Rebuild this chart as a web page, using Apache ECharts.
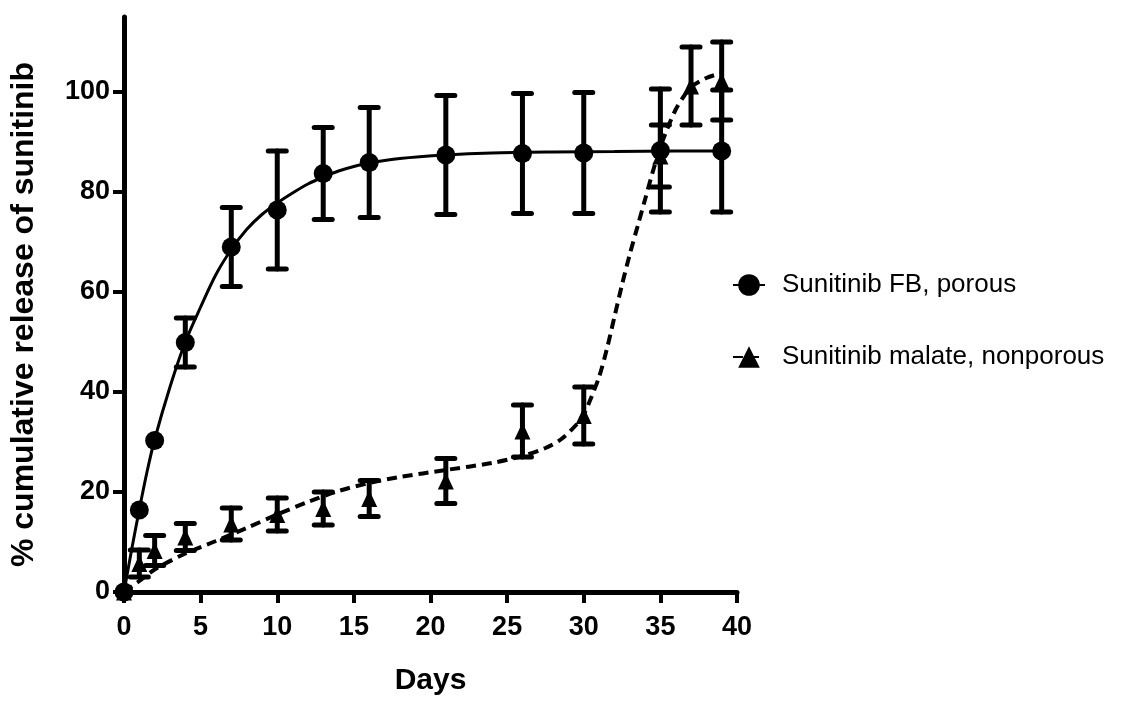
<!DOCTYPE html>
<html>
<head>
<meta charset="utf-8">
<script src="https://cdn.jsdelivr.net/npm/echarts@6/dist/echarts.min.js"></script>
<style>
html,body{margin:0;padding:0;background:#fff;}
#chart{width:1124px;height:702px;}
</style>
</head>
<body>
<div id="chart"></div>
<script>
// ---- Data ----
const seriesNames = ['Sunitinib FB, porous', 'Sunitinib malate, nonporous'];

const fbDays   = [0, 1, 2, 4, 7, 10, 13, 16, 21, 26, 30, 35, 39];
const fbMean   = [0, 16.4, 30.3, 49.9, 69.0, 76.4, 83.7, 85.9, 87.4, 87.7, 87.8, 88.3, 88.2];
const fbErr    = [0, 0, 0, 4.9, 7.9, 11.8, 9.2, 11.0, 11.9, 12.0, 12.1, 12.3, 12.2];

const malDays  = [0, 1, 2, 4, 7, 10, 13, 16, 21, 26, 30, 35, 37, 39];
const malMean  = [0, 5.7, 8.3, 11.0, 13.6, 15.5, 16.7, 18.7, 22.2, 32.2, 35.3, 87.2, 101.2, 102.2];
const malErr   = [0, 2.7, 3.0, 2.7, 3.2, 3.3, 3.3, 3.6, 4.5, 5.2, 5.7, 6.2, 7.8, 7.8];

// fitted curves
const fbFitX  = [0, 0.5, 1, 1.5, 2, 3, 4, 5, 6, 7, 8, 9, 10, 11, 12, 13, 14, 15, 16, 18, 21, 24, 28, 32, 36, 39];
const fbFitY  = [0, 8.5, 16.5, 24, 30.5, 41, 50, 57, 63.5, 68.5, 72.5, 75.5, 77.8, 79.8, 81.6, 83, 84.2, 85.1, 85.8, 86.7, 87.4, 87.8, 88, 88.1, 88.2, 88.2];
const malFitX = [0, 1, 2, 4, 6, 8, 10, 12, 14, 16, 18, 21, 24, 26, 27.5, 28.5, 29.5, 30, 30.5, 31, 31.5, 32, 32.5, 33, 33.5, 34, 34.5, 35, 35.5, 36, 36.5, 37, 38, 39];
const malFitY = [0, 2.2, 4.5, 7.7, 10.2, 12.8, 15.5, 18, 20.2, 21.8, 23, 24.4, 25.8, 27.2, 28.8, 30.5, 33.4, 35.5, 39, 43, 48.5, 55, 61.5, 67.5, 73, 78.5, 84, 89, 93, 96.5, 99, 101, 102.8, 103.8];

const yTicks = [0, 20, 40, 60, 80, 100];
const xAxisTitle = 'Days';
const yAxisTitle = '% cumulative release of sunitinib';

// ---- Build ----
const zip = (a, b) => a.map((v, i) => [v, b[i]]);
const errData = (x, m, e) => x.map((v, i) => [v, m[i] - e[i], m[i] + e[i]]);

function errRender(params, api) {
  const x = api.value(0), lo = api.value(1), hi = api.value(2);
  if (hi - lo < 0.5) return null;
  const p1 = api.coord([x, hi]), p2 = api.coord([x, lo]);
  const hw = 9;
  const style = { stroke: '#000', lineWidth: 5, lineCap: 'round', fill: null };
  return {
    type: 'group',
    children: [
      { type: 'line', shape: { x1: p1[0], y1: p1[1], x2: p2[0], y2: p2[1] }, style: style },
      { type: 'line', shape: { x1: p1[0] - hw, y1: p1[1], x2: p1[0] + hw, y2: p1[1] }, style: style },
      { type: 'line', shape: { x1: p2[0] - hw, y1: p2[1], x2: p2[0] + hw, y2: p2[1] }, style: style }
    ]
  };
}

const chart = echarts.init(document.getElementById('chart'), null, { renderer: 'canvas' });
const font = 'Liberation Sans, Arial, Helvetica, sans-serif';

chart.setOption({
  animation: false,
  backgroundColor: '#fff',
  textStyle: { fontFamily: font, color: '#000' },
  grid: { left: 123, right: 387, top: 17, bottom: 110, containLabel: false },
  legend: {
    data: seriesNames,
    orient: 'vertical',
    left: 732,
    top: 272,
    padding: 0,
    itemWidth: 32,
    itemHeight: 27,
    itemGap: 46,
    textStyle: { fontSize: 26, fontFamily: font, color: '#000', padding: [0, 0, 0, 12] },
    selectedMode: false
  },
  xAxis: {
    type: 'value',
    min: 0, max: 40, interval: 5,
    name: xAxisTitle,
    nameLocation: 'middle',
    nameGap: 74,
    nameTextStyle: { fontSize: 30, fontWeight: 'bold', color: '#000', fontFamily: font },
    axisLine: { lineStyle: { color: '#000', width: 5 } },
    axisTick: { length: 11, lineStyle: { color: '#000', width: 4 } },
    axisLabel: { fontSize: 27, fontWeight: 'bold', color: '#000', margin: 22, fontFamily: font },
    splitLine: { show: false }
  },
  yAxis: {
    type: 'value',
    min: 0, max: 115,
    name: yAxisTitle,
    nameLocation: 'middle',
    nameGap: 84,
    nameTextStyle: { fontSize: 32, fontWeight: 'bold', color: '#000', fontFamily: font, padding: [0, 0, 0, -20] },
    axisLine: { lineStyle: { color: '#000', width: 5 } },
    axisTick: { length: 11, customValues: yTicks, lineStyle: { color: '#000', width: 4 } },
    axisLabel: { fontSize: 27, fontWeight: 'bold', color: '#000', margin: 14, customValues: yTicks, fontFamily: font },
    splitLine: { show: false }
  },
  series: [
    {
      name: seriesNames[0], type: 'line', data: zip(fbFitX, fbFitY), smooth: 0.3,
      symbol: 'circle', showSymbol: false, z: 3,
      lineStyle: { color: '#000', width: 3 }, itemStyle: { color: '#000' }
    },
    {
      name: seriesNames[1], type: 'line', data: zip(malFitX, malFitY), smooth: 0.3,
      symbol: 'triangle', showSymbol: false, z: 3,
      lineStyle: { color: '#000', width: 4, type: [10, 6] }, itemStyle: { color: '#000' }
    },
    {
      name: seriesNames[0], type: 'custom', renderItem: errRender,
      data: errData(fbDays, fbMean, fbErr), encode: { x: 0, y: [1, 2] }, z: 4
    },
    {
      name: seriesNames[1], type: 'custom', renderItem: errRender,
      data: errData(malDays, malMean, malErr), encode: { x: 0, y: [1, 2] }, z: 4
    },
    {
      name: seriesNames[0], type: 'scatter', data: zip(fbDays, fbMean),
      symbol: 'circle', symbolSize: 19, itemStyle: { color: '#000', opacity: 1 }, z: 5
    },
    {
      name: seriesNames[1], type: 'scatter', data: zip(malDays, malMean),
      symbol: 'triangle', symbolSize: [16, 17], itemStyle: { color: '#000', opacity: 1 }, z: 5
    }
  ]
});
</script>
</body>
</html>
